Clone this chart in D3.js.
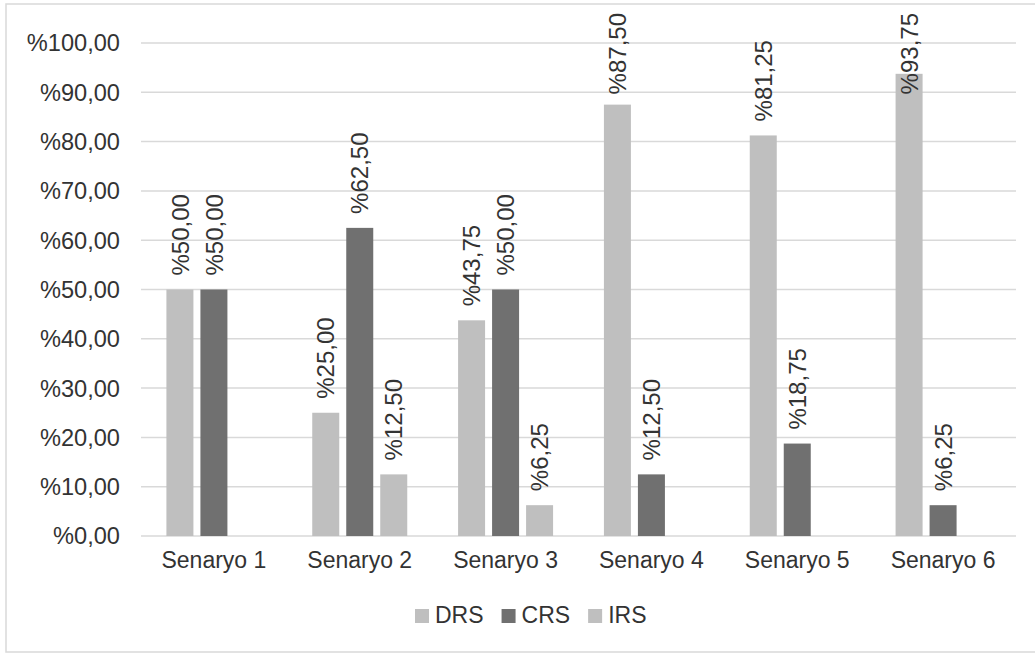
<!DOCTYPE html>
<html>
<head>
<meta charset="utf-8">
<script src="https://cdn.jsdelivr.net/npm/d3@7"></script>
<style>
  html, body { margin: 0; padding: 0; background: #ffffff; }
  svg { display: block; }
  text { font-family: "Liberation Sans", Arial, sans-serif; fill: #333333; }
</style>
</head>
<body>
<svg id="chart" width="1035" height="655"></svg>
<script>
const categories = ["Senaryo 1", "Senaryo 2", "Senaryo 3", "Senaryo 4", "Senaryo 5", "Senaryo 6"];
const seriesNames = ["DRS", "CRS", "IRS"];
const drsValues = [50.00, 25.00, 43.75, 87.50, 81.25, 93.75];
const crsValues = [50.00, 62.50, 50.00, 12.50, 18.75, 6.25];
const irsValues = [null, 12.50, 6.25, null, null, null];
const yTicks = [0, 10, 20, 30, 40, 50, 60, 70, 80, 90, 100];
const seriesColors = ["#bfbfbf", "#707070", "#bfbfbf"];

const seriesValues = [drsValues, crsValues, irsValues];
const fmt = v => "%" + v.toFixed(2).replace(".", ",");

const svg = d3.select("#chart");
const plot = { left: 141, right: 1016, top: 43, bottom: 536 };

// outer border (right edge lies outside the picture)
svg.append("rect")
  .attr("x", 6).attr("y", 4)
  .attr("width", 1060).attr("height", 648)
  .attr("fill", "#ffffff")
  .attr("stroke", "#d9d9d9").attr("stroke-width", 1.5);

const x = d3.scaleBand().domain(categories).range([plot.left, plot.right]).paddingInner(0).paddingOuter(0);
const groupWidth = 95;
const xs = d3.scaleBand().domain(seriesNames).range([0, groupWidth]).paddingInner(7 / 34).paddingOuter(0);
const y = d3.scaleLinear().domain([0, 100]).range([plot.bottom, plot.top]);

// gridlines
svg.append("g").selectAll("line").data(yTicks).join("line")
  .attr("x1", plot.left).attr("x2", plot.right)
  .attr("y1", d => y(d)).attr("y2", d => y(d))
  .attr("stroke", "#d9d9d9").attr("stroke-width", 1.5);

// y axis labels
svg.append("g").selectAll("text").data(yTicks).join("text")
  .attr("x", 120).attr("y", d => y(d))
  .attr("dy", "0.36em")
  .attr("text-anchor", "end")
  .attr("font-size", 23.6)
  .text(d => fmt(d));

// x axis labels
svg.append("g").selectAll("text").data(categories).join("text")
  .attr("x", d => x(d) + x.bandwidth() / 2)
  .attr("y", 568)
  .attr("text-anchor", "middle")
  .attr("font-size", 23)
  .text(d => d);

// bars + labels
const flat = [];
categories.forEach((c, i) => {
  seriesNames.forEach((s, j) => {
    const v = seriesValues[j][i];
    if (v !== null && v !== undefined) flat.push({ c, s, v, j });
  });
});

const groupOffset = (x.bandwidth() - groupWidth) / 2;
svg.append("g").selectAll("rect").data(flat).join("rect")
  .attr("x", d => x(d.c) + groupOffset + xs(d.s))
  .attr("y", d => y(d.v))
  .attr("width", xs.bandwidth())
  .attr("height", d => y(0) - y(d.v))
  .attr("fill", d => seriesColors[d.j]);

const labels = svg.append("g").selectAll("text").data(flat).join("text")
  .attr("font-size", 24)
  .attr("text-anchor", "start")
  .attr("dy", "0.36em")
  .text(d => fmt(d.v));

labels.each(function(d) {
  const L = this.getComputedTextLength();
  const cx = x(d.c) + groupOffset + xs(d.s) + xs.bandwidth() / 2;
  let start = y(d.v) - 14;
  if (start - L < 13) start = 13 + L;
  d3.select(this).attr("transform", `translate(${cx},${start}) rotate(-90)`);
});

// legend
const legend = svg.append("g");
let lx = 415;
seriesNames.forEach((s, j) => {
  legend.append("rect")
    .attr("x", lx).attr("y", 609)
    .attr("width", 14).attr("height", 14)
    .attr("fill", seriesColors[j]);
  const t = legend.append("text")
    .attr("x", lx + 20).attr("y", 623)
    .attr("font-size", 23)
    .text(s);
  lx += 20 + t.node().getComputedTextLength() + 18;
});
</script>
</body>
</html>
